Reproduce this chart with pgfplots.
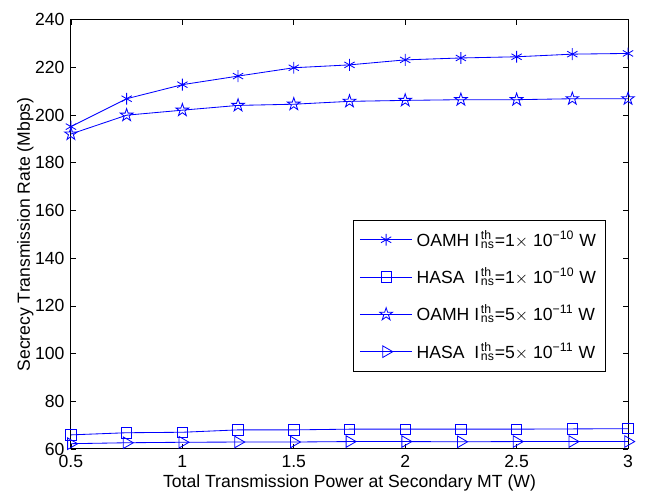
\documentclass[border=0pt]{standalone}
\usepackage{pgfplots}
\pgfplotsset{compat=1.18}
\usepackage{fontspec}
\setmainfont{Liberation Sans}
\usetikzlibrary{plotmarks}
\pgfdeclareplotmark{pentagram}{%
  \pgfpathmoveto{\pgfpointpolar{90}{\pgfplotmarksize}}%
  \pgfpathlineto{\pgfpointpolar{126}{0.382\pgfplotmarksize}}%
  \pgfpathlineto{\pgfpointpolar{162}{\pgfplotmarksize}}%
  \pgfpathlineto{\pgfpointpolar{198}{0.382\pgfplotmarksize}}%
  \pgfpathlineto{\pgfpointpolar{234}{\pgfplotmarksize}}%
  \pgfpathlineto{\pgfpointpolar{270}{0.382\pgfplotmarksize}}%
  \pgfpathlineto{\pgfpointpolar{306}{\pgfplotmarksize}}%
  \pgfpathlineto{\pgfpointpolar{342}{0.382\pgfplotmarksize}}%
  \pgfpathlineto{\pgfpointpolar{18}{\pgfplotmarksize}}%
  \pgfpathlineto{\pgfpointpolar{54}{0.382\pgfplotmarksize}}%
  \pgfpathclose
  \pgfusepathqstroke
}
\newcommand{\Ith}{I\kern0.1em\rlap{\textsuperscript{th}}\textsubscript{ns}}
\begin{document}
\begin{tikzpicture}
\path[use as bounding box] (-38.3pt,-26.5pt) rectangle (310.5pt,242.4pt);
\begin{axis}[
  at={(0,0)}, anchor=south west,
  scale only axis,
  width=300.8pt, height=231.7pt,
  xmin=0.5, xmax=3, ymin=60, ymax=240,
  xtick={0.5,1,1.5,2,2.5,3},
  xticklabels={0.5,1,1.5,2,2.5,3},
  ytick={60,80,...,240},
  tick align=inside,
  major tick length=2.7pt,
  tick style={black, line width=0.4pt},
  axis line style={line width=0.5pt},
  font=\fontsize{9.5}{11}\selectfont,
  /pgf/number format/assume math mode=true,
  xlabel={Total Transmission Power at Secondary MT (W)},
  ylabel={Secrecy Transmission Rate (Mbps)},
  xlabel style={yshift=3pt},
  ylabel style={yshift=-6pt},
  legend style={at={(0.96,0.18)}, anchor=south east, draw=black, line width=0.5pt,
    font=\fontsize{9.5}{11}\selectfont, row sep=6pt, inner xsep=3pt, inner ysep=3.5pt},
  legend cell align=left,
  legend image code/.code={\draw[mark repeat=2,mark phase=2,#1] plot coordinates {(0cm,0cm) (0.5cm,0cm) (1.0cm,0cm)};},
  every axis plot/.append style={blue, line width=0.45pt},
]
\addplot[mark=asterisk, mark size=3.2pt] coordinates {
(0.5,195.2)(0.75,206.9)(1,212.8)(1.25,216.4)(1.5,219.9)(1.75,221.1)(2,223.2)(2.25,224.0)(2.5,224.5)(2.75,225.6)(3,225.9)};
\addlegendentry{OAMH \Ith=1$\times$ 10\textsuperscript{−10} W}
\addplot[mark=square, mark size=2.8pt] coordinates {
(0.5,65.9)(0.75,66.8)(1,67.0)(1.25,68.0)(1.5,68.0)(1.75,68.3)(2,68.3)(2.25,68.3)(2.5,68.3)(2.75,68.4)(3,68.5)};
\addlegendentry{HASA\ \ \Ith=1$\times$ 10\textsuperscript{−10} W}
\addplot[mark=pentagram, mark size=3.6pt] coordinates {
(0.5,192.1)(0.75,200.0)(1,202.1)(1.25,204.1)(1.5,204.6)(1.75,205.8)(2,206.2)(2.25,206.5)(2.5,206.5)(2.75,206.9)(3,206.9)};
\addlegendentry{OAMH \Ith=5$\times$ 10\textsuperscript{−11} W}
\addplot[mark=triangle, mark size=3.6pt, mark options={rotate=-90}] coordinates {
(0.5,62.2)(0.75,62.6)(1,62.8)(1.25,62.9)(1.5,62.9)(1.75,63.1)(2,63.1)(2.25,63.0)(2.5,63.1)(2.75,63.1)(3,63.1)};
\addlegendentry{HASA\ \ \Ith=5$\times$ 10\textsuperscript{−11} W}
\end{axis}
\end{tikzpicture}
\end{document}
